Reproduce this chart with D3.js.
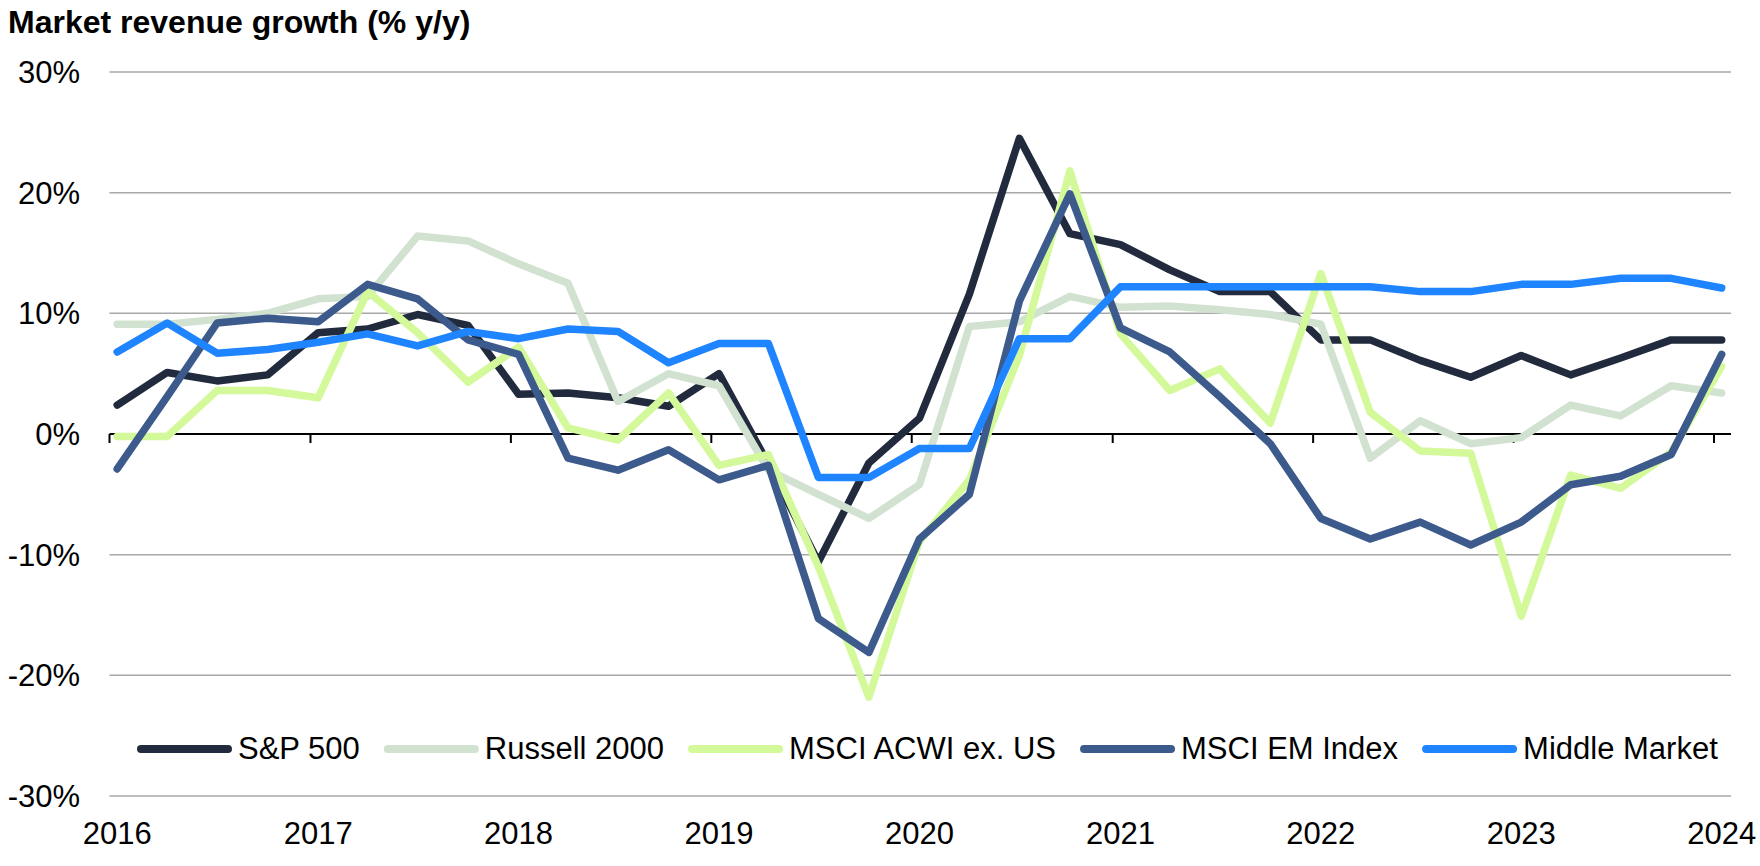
<!DOCTYPE html>
<html>
<head>
<meta charset="utf-8">
<script src="https://cdn.jsdelivr.net/npm/d3@7"></script>
<style>
  html, body { margin: 0; padding: 0; background: #ffffff; }
  svg { display: block; font-family: "Liberation Sans", Arial, Helvetica, sans-serif; }
</style>
</head>
<body>
<svg id="chart" width="1760" height="866"></svg>
<script>
// ---------- data ----------
const dates = [
  "2016-01-15","2016-04-15","2016-07-15","2016-10-15",
  "2017-01-15","2017-04-15","2017-07-15","2017-10-15",
  "2018-01-15","2018-04-15","2018-07-15","2018-10-15",
  "2019-01-15","2019-04-15","2019-07-15","2019-10-15",
  "2020-01-15","2020-04-15","2020-07-15","2020-10-15",
  "2021-01-15","2021-04-15","2021-07-15","2021-10-15",
  "2022-01-15","2022-04-15","2022-07-15","2022-10-15",
  "2023-01-15","2023-04-15","2023-07-15","2023-10-15",
  "2024-01-15"
];
const sp500 = [2.4, 5.1, 4.4, 4.9, 8.4, 8.7, 9.9, 9.0, 3.3, 3.4, 3.0, 2.3, 5.0, -2.5, -10.6, -2.4,
               1.3, 11.6, 24.5, 16.6, 15.7, 13.6, 11.8, 11.8, 7.8, 7.8, 6.1, 4.7, 6.5, 4.9, 6.3, 7.8, 7.8];
const russell2000 = [9.1, 9.1, 9.5, 10.0, 11.2, 11.4, 16.4, 16.0, 14.1, 12.5, 2.7, 5.0, 4.0, -3.0, -5.0, -7.0,
               -4.2, 8.9, 9.3, 11.4, 10.5, 10.6, 10.3, 9.9, 9.1, -2.0, 1.1, -0.8, -0.3, 2.4, 1.5, 4.0, 3.4];
const msciAcwiExUs = [-0.2, -0.2, 3.6, 3.6, 3.0, 11.8, 8.4, 4.3, 7.2, 0.5, -0.5, 3.4, -2.6, -1.7, -11.0, -21.8,
               -8.9, -3.8, 6.5, 21.8, 8.3, 3.6, 5.4, 0.9, 13.3, 1.8, -1.4, -1.6, -15.1, -3.4, -4.5, -1.5, 5.6];
const msciEm = [-2.9, 3.1, 9.2, 9.6, 9.3, 12.4, 11.2, 7.8, 6.6, -2.0, -3.0, -1.3, -3.8, -2.6, -15.3, -18.1,
               -8.7, -5.0, 11.0, 19.9, 8.8, 6.8, 3.1, -0.8, -7.0, -8.7, -7.3, -9.2, -7.3, -4.2, -3.5, -1.7, 6.6];
const middleMarket = [6.8, 9.2, 6.7, 7.0, 7.6, 8.3, 7.3, 8.5, 7.9, 8.7, 8.5, 5.9, 7.5, 7.5, -3.6, -3.6,
               -1.2, -1.2, 7.9, 7.9, 12.2, 12.2, 12.2, 12.2, 12.2, 12.2, 11.8, 11.8, 12.4, 12.4, 12.9, 12.9, 12.1];

const seriesNames = ["S&P 500", "Russell 2000", "MSCI ACWI ex. US", "MSCI EM Index", "Middle Market"];
const seriesColors = ["#222b3e", "#d2e2d0", "#d3f99b", "#3c5a8b", "#1e84ff"];
const yTicks = [-30, -20, -10, 0, 10, 20, 30];
const yearTicks = [2016, 2017, 2018, 2019, 2020, 2021, 2022, 2023, 2024];
const titleText = "Market revenue growth (% y/y)";

// ---------- layout ----------
const svg = d3.select("#chart");
const parse = d3.timeParse("%Y-%m-%d");
const xDates = dates.map(parse);
const allSeries = [sp500, russell2000, msciAcwiExUs, msciEm, middleMarket];

const x = d3.scaleTime()
  .domain([new Date(2016, 0, 1), new Date(2024, 1, 1)])
  .range([109.5, 1731]);
const y = d3.scaleLinear().domain([-30, 30]).range([796, 72]);

// title
svg.append("text")
  .attr("x", 8).attr("y", 33)
  .attr("font-size", 32).attr("font-weight", "bold").attr("fill", "#000")
  .text(titleText);

// gridlines
svg.append("g").selectAll("line")
  .data(yTicks.filter(d => d !== 0))
  .join("line")
  .attr("x1", x.range()[0]).attr("x2", x.range()[1])
  .attr("y1", d => y(d)).attr("y2", d => y(d))
  .attr("stroke", "#a8a8a8").attr("stroke-width", 1.5);

// y labels
svg.append("g").selectAll("text")
  .data(yTicks)
  .join("text")
  .attr("x", 80).attr("y", d => y(d) + 11)
  .attr("text-anchor", "end").attr("font-size", 31).attr("fill", "#000")
  .text(d => d + "%");

// zero axis with year ticks
svg.append("line")
  .attr("x1", x.range()[0]).attr("x2", x.range()[1])
  .attr("y1", y(0)).attr("y2", y(0))
  .attr("stroke", "#000").attr("stroke-width", 2);
svg.append("g").selectAll("line")
  .data(yearTicks)
  .join("line")
  .attr("x1", d => x(new Date(d, 0, 1))).attr("x2", d => x(new Date(d, 0, 1)))
  .attr("y1", y(0)).attr("y2", y(0) + 9)
  .attr("stroke", "#000").attr("stroke-width", 2);

// x labels
svg.append("g").selectAll("text")
  .data(yearTicks)
  .join("text")
  .attr("x", d => x(new Date(d, 0, 15))).attr("y", 844)
  .attr("text-anchor", "middle").attr("font-size", 31).attr("fill", "#000")
  .text(d => d);

// lines
const line = d3.line()
  .x((d, i) => x(xDates[i]))
  .y(d => y(d));
svg.append("g").selectAll("path")
  .data(allSeries)
  .join("path")
  .attr("d", d => line(d))
  .attr("fill", "none")
  .attr("stroke", (d, i) => seriesColors[i])
  .attr("stroke-width", 7.5)
  .attr("stroke-linejoin", "round")
  .attr("stroke-linecap", "round");

// legend
const legend = svg.append("g");
let lx = 137;
const ly = 749;
seriesNames.forEach((name, i) => {
  legend.append("line")
    .attr("x1", lx + 4).attr("x2", lx + 91)
    .attr("y1", ly).attr("y2", ly)
    .attr("stroke", seriesColors[i]).attr("stroke-width", 8)
    .attr("stroke-linecap", "round");
  const t = legend.append("text")
    .attr("x", lx + 101).attr("y", ly + 10)
    .attr("font-size", 31).attr("fill", "#000")
    .text(name);
  lx = lx + 101 + t.node().getComputedTextLength() + 24;
});
</script>
</body>
</html>
